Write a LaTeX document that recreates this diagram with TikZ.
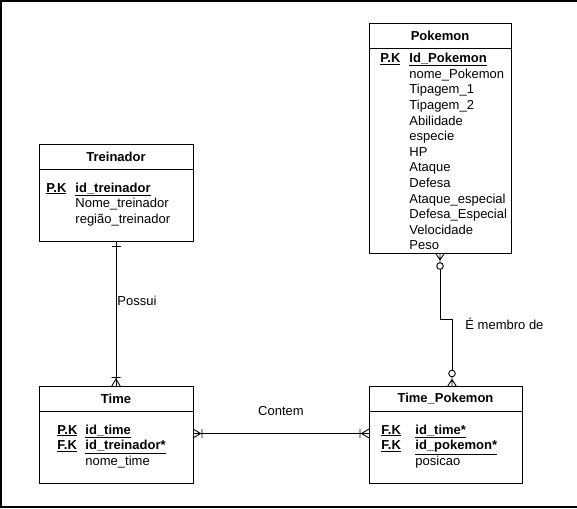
\documentclass[tikz,border=0pt]{standalone}
\usepackage{fontspec}
\setmainfont{Liberation Sans}
\usetikzlibrary{positioning}

% crow's foot ends
\pgfdeclarearrow{
  name = crowone,
  setup code = {
    \pgfarrowssettipend{0pt}
    \pgfarrowssetlineend{0pt}
    \pgfarrowssetbackend{-10pt}
  },
  drawing code = {
    \pgfpathmoveto{\pgfqpoint{0pt}{4.5pt}}
    \pgfpathlineto{\pgfqpoint{-7.5pt}{0pt}}
    \pgfpathlineto{\pgfqpoint{0pt}{-4.5pt}}
    \pgfpathmoveto{\pgfqpoint{-9pt}{4.5pt}}
    \pgfpathlineto{\pgfqpoint{-9pt}{-4.5pt}}
    \pgfusepathqstroke
  }
}
\pgfdeclarearrow{
  name = crowzero,
  setup code = {
    \pgfarrowssettipend{0pt}
    \pgfarrowssetlineend{-16.3pt}
    \pgfarrowssetbackend{-16.3pt}
  },
  drawing code = {
    \pgfpathmoveto{\pgfqpoint{0pt}{4.5pt}}
    \pgfpathlineto{\pgfqpoint{-7pt}{0pt}}
    \pgfpathlineto{\pgfqpoint{0pt}{-4.5pt}}
    \pgfpathmoveto{\pgfqpoint{0pt}{0pt}}
    \pgfpathlineto{\pgfqpoint{-9.7pt}{0pt}}
    \pgfpathcircle{\pgfqpoint{-13pt}{0pt}}{3.3pt}
    \pgfusepathqstroke
  }
}
\pgfdeclarearrow{
  name = onebar,
  setup code = {
    \pgfarrowssettipend{0pt}
    \pgfarrowssetlineend{0pt}
    \pgfarrowssetbackend{-6pt}
  },
  drawing code = {
    \pgfpathmoveto{\pgfqpoint{-5pt}{4.5pt}}
    \pgfpathlineto{\pgfqpoint{-5pt}{-4.5pt}}
    \pgfusepathqstroke
  }
}

\newcommand{\attrlist}[1]{\begin{tabular}[t]{@{}l@{}}#1\end{tabular}}
\newcommand{\keyattr}[1]{\underline{\textbf{#1}}}

\tikzset{
  entity/.style = {draw, outer sep=0pt, inner sep=0pt, minimum height=25pt, font=\fontsize{13}{15.6}\selectfont\bfseries},
  entbody/.style = {draw, outer sep=0pt, inner sep=0pt},
  attrs/.style = {anchor=base west, inner sep=0pt},
  lbl/.style = {inner sep=1pt}
}

\begin{document}
\begin{tikzpicture}[x=1pt, y=1pt, line width=0.9pt, font=\fontsize{13}{15.6}\selectfont]
\useasboundingbox (0,0) rectangle (577,-508);
\draw [line width=1.2pt] (577,-1) -- (1,-1) -- (1,-507) -- (577,-507);

% Pokemon
\node (pokH) [entity, minimum width=142pt] at (440,-35.5) {Pokemon};
\node (pokB) [entbody, minimum width=142pt, minimum height=205pt, below=0pt of pokH] {};
\node (pokK) [attrs] at ([shift={(11pt,-14.7pt)}]pokB.north west) {\attrlist{\keyattr{P.K}}};
\node (pokA) [attrs] at ([shift={(40pt,-14.7pt)}]pokB.north west) {\attrlist{\keyattr{Id\_Pokemon}\\
  nome\_Pokemon\\ Tipagem\_1\\ Tipagem\_2\\ Abilidade\\ especie\\ HP\\ Ataque\\ Defesa\\
  Ataque\_especial\\ Defesa\_Especial\\ Velocidade\\ Peso}};

% Treinador
\node (treH) [entity, minimum width=154pt] at (116,-157) {Treinador};
\node (treB) [entbody, minimum width=154pt, minimum height=72pt, below=0pt of treH] {};
\node (treK) [attrs] at ([shift={(7pt,-22.7pt)}]treB.north west) {\attrlist{\keyattr{P.K}}};
\node (treA) [attrs] at ([shift={(36pt,-22.7pt)}]treB.north west) {\attrlist{\keyattr{id\_treinador}\\
  Nome\_treinador\\ região\_treinador}};

% Time
\node (timH) [entity, minimum width=154pt] at (116,-399) {Time};
\node (timB) [entbody, minimum width=154pt, minimum height=72pt, below=0pt of timH] {};
\node (timK) [attrs] at ([shift={(18pt,-22.7pt)}]timB.north west) {\attrlist{\keyattr{P.K}\\ \keyattr{F.K}}};
\node (timA) [attrs] at ([shift={(46pt,-22.7pt)}]timB.north west) {\attrlist{\keyattr{id\_time}\\
  \keyattr{id\_treinador*}\\ nome\_time}};

% Time_Pokemon
\node (tpH) [entity, minimum width=153pt] at (445.5,-399) {Time\_Pokemon};
\node (tpB) [entbody, minimum width=153pt, minimum height=72pt, below=0pt of tpH] {};
\node (tpK) [attrs] at ([shift={(12pt,-22.7pt)}]tpB.north west) {\attrlist{\keyattr{F.K}\\ \keyattr{F.K}}};
\node (tpA) [attrs] at ([shift={(46pt,-22.7pt)}]tpB.north west) {\attrlist{\keyattr{id\_time*}\\
  \keyattr{id\_pokemon*}\\ posicao}};

\path
  (treB) edge [onebar-crowone] node [right, pos=0.41, lbl] (possui) {Possui} (timH)
  ([yshift=14pt]timB.east) edge [crowone-crowone] node [above=16.3pt, lbl] (contem) {Contem} ([yshift=14pt]tpB.west);
\draw [crowzero-crowzero] (pokB.south) -- ++(0,-66.5) -| ([xshift=6.5pt]tpH.north)
  node [pos=0.534, right=12pt, lbl] (membro) {É membro de};
\end{tikzpicture}
\end{document}
